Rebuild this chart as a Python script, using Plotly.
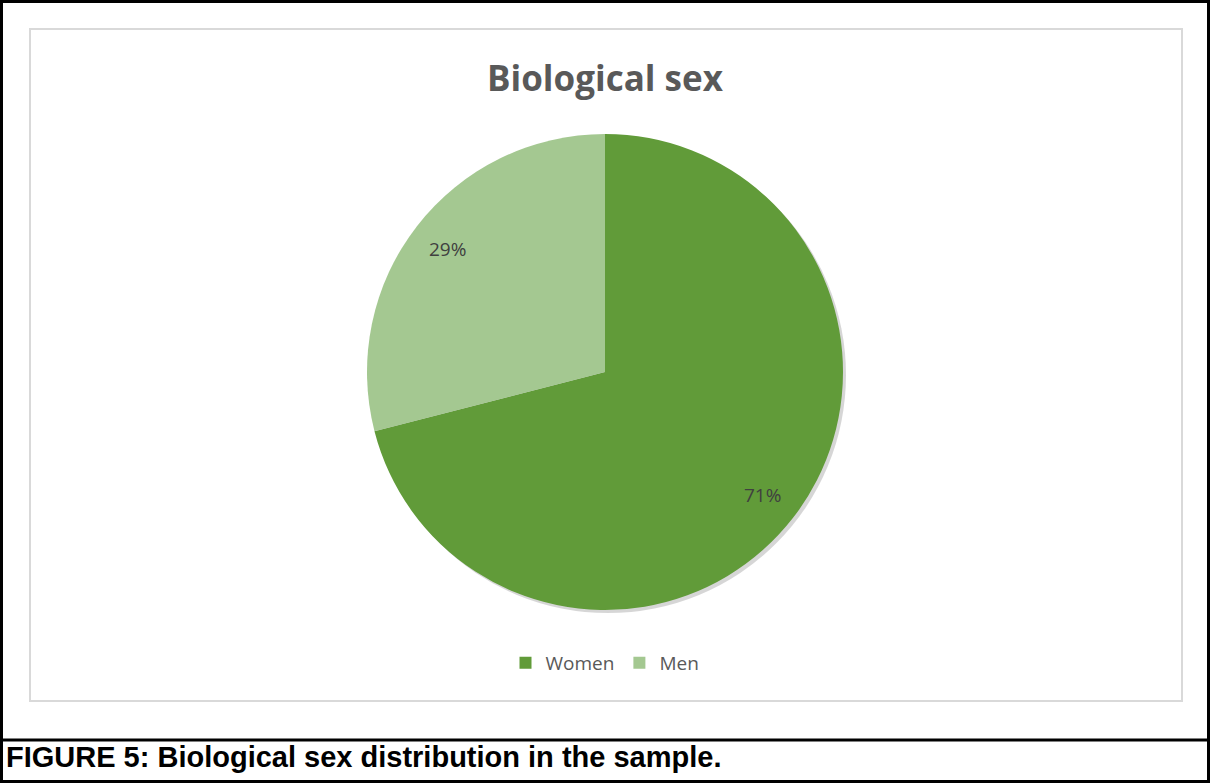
import math
import plotly.graph_objects as go

# Sample composition by biological sex
categories = ["Women", "Men"]
shares = [71, 29]
colors = ["#619b39", "#a4c891"]

W, H = 1210, 783

# pie placement (paper fractions)
cx, cy = 0.5, 1 - 372 / H
r_px = 238
dom_y = [cy - r_px / H, cy + r_px / H]
dom_x = [0.5 - r_px / W, 0.5 + r_px / W]

fig = go.Figure()

# soft drop shadow under the pie
fig.add_trace(go.Pie(
    values=[1], labels=["shadow"], showlegend=False, hoverinfo="skip",
    marker=dict(colors=["rgba(0,0,0,0.16)"], line=dict(width=0)),
    textinfo="none", sort=False,
    domain=dict(x=[dom_x[0] + 3 / W, dom_x[1] + 3 / W],
                y=[dom_y[0] - 3 / H, dom_y[1] - 3 / H]),
))

fig.add_trace(go.Pie(
    labels=categories, values=shares, sort=False, direction="clockwise",
    rotation=0, textinfo="none",
    marker=dict(colors=colors, line=dict(width=0)),
    domain=dict(x=dom_x, y=dom_y),
))

# percentage labels placed along each slice's mid-angle
total = sum(shares)
acc = 0
for v in shares:
    mid = (acc + v / 2) / total * 2 * math.pi
    acc += v
    rr = 0.84 * r_px
    px = 605 + rr * math.sin(mid)
    py = 372 - rr * math.cos(mid)
    fig.add_annotation(
        x=px / W, y=1 - py / H, xref="paper", yref="paper",
        xanchor="center", yanchor="middle",
        text=f"{round(v / total * 100)}%", showarrow=False,
        font=dict(family="Open Sans, sans-serif", size=19, color="#404040"),
    )

# title
fig.add_annotation(
    x=0.5, y=1 - 78 / H, xref="paper", yref="paper", xanchor="center", yanchor="middle",
    text="<b>Biological sex</b>", showarrow=False,
    font=dict(family="Open Sans, sans-serif", size=35, color="#595959"),
)

# caption
fig.add_annotation(
    x=4 / W, y=1 - 757 / H, xref="paper", yref="paper", xanchor="left", yanchor="middle",
    text="<b>FIGURE 5: Biological sex distribution in the sample.</b>", showarrow=False,
    font=dict(family="Liberation Sans, Arial, sans-serif", size=29, color="#000000"),
)

shapes = [
    # chart area frame
    dict(type="rect", xref="paper", yref="paper",
         x0=30 / W, x1=1182 / W, y0=1 - 701 / H, y1=1 - 29 / H,
         line=dict(color="#d9d9d9", width=2)),
    # outer frame
    dict(type="rect", xref="paper", yref="paper",
         x0=1.5 / W, x1=1 - 1.5 / W, y0=1.5 / H, y1=1 - 1.5 / H,
         line=dict(color="#000000", width=3)),
    # caption separator
    dict(type="line", xref="paper", yref="paper",
         x0=0, x1=1, y0=1 - 740 / H, y1=1 - 740 / H,
         line=dict(color="#000000", width=3)),
]

fig.update_layout(
    width=W, height=H, margin=dict(l=0, r=0, t=0, b=0),
    paper_bgcolor="white", plot_bgcolor="white",
    shapes=shapes,
    legend=dict(orientation="h", x=0.5, xanchor="center", y=1 - 663 / H, yanchor="middle",
                font=dict(family="Open Sans, sans-serif", size=19, color="#595959"),
                itemwidth=30, traceorder="normal"),
)

fig.write_html("out.html")
